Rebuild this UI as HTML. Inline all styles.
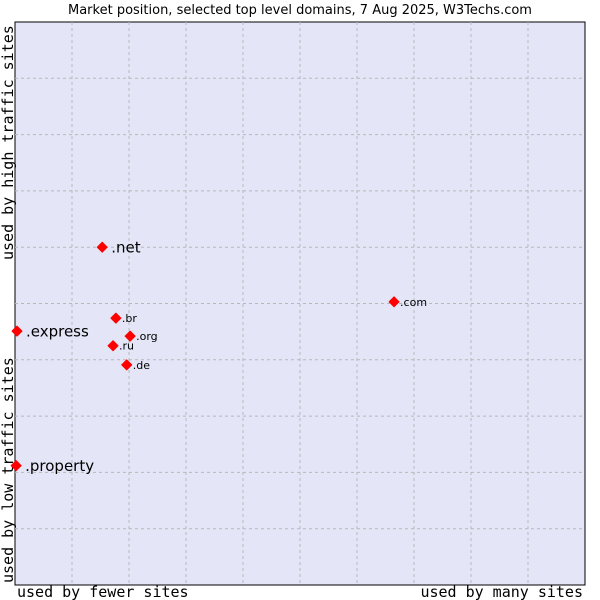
<!DOCTYPE html>
<html><head><meta charset="utf-8"><style>
body{margin:0;background:#fff;width:600px;height:600px;overflow:hidden}
svg{display:block}
</style></head><body>
<svg width="600" height="600">
<text x="300" y="14" text-anchor="middle" font-family="DejaVu Sans, sans-serif" font-size="13" fill="#000">Market position, selected top level domains, 7 Aug 2025, W3Techs.com</text>
<rect x="15" y="22" width="570" height="563" fill="#e4e6f8" stroke="#000" stroke-width="1"/>
<g id="grid"></g>
<text x="17" y="597" font-family="DejaVu Sans Mono, monospace" font-size="15">used by fewer sites</text>
<text x="583" y="597" text-anchor="end" font-family="DejaVu Sans Mono, monospace" font-size="15">used by many sites</text>
<text transform="translate(13,583) rotate(-90)" font-family="DejaVu Sans Mono, monospace" font-size="15">used by low traffic sites</text>
<text transform="translate(13,260) rotate(-90)" font-family="DejaVu Sans Mono, monospace" font-size="15">used by high traffic sites</text>
<g id="points"></g>
</svg>
<script>
const domains=[".com",".net",".br",".org",".ru",".de",".express",".property"];
const xValues=[66.5,15.3,17.7,20.2,17.2,19.6,0.35,0.2];
const yValues=[50.3,60.0,47.4,44.2,42.5,39.1,45.1,21.2];
const bigLabel=[false,true,false,false,false,false,true,true];
const NS="http://www.w3.org/2000/svg";
const X0=15,X1=585,Y0=22,Y1=585;
const sx=v=>X0+v/100*(X1-X0);
const sy=v=>Y1-v/100*(Y1-Y0);
const grid=document.getElementById('grid');
for(let i=1;i<10;i++){
  const v=document.createElementNS(NS,'line');
  
  
  v.setAttribute('x1',sx(i*10));v.setAttribute('x2',sx(i*10));v.setAttribute('y1',Y0);v.setAttribute('y2',Y1);
  v.setAttribute('stroke','#b8b8b8');v.setAttribute('stroke-dasharray','3,3');
  grid.appendChild(v);
  const h=document.createElementNS(NS,'line');
  
  
  h.setAttribute('y1',sy(i*10));h.setAttribute('y2',sy(i*10));h.setAttribute('x1',X0);h.setAttribute('x2',X1);
  h.setAttribute('stroke','#b8b8b8');h.setAttribute('stroke-dasharray','3,3');
  grid.appendChild(h);
}
const pts=document.getElementById('points');
domains.forEach((d,i)=>{
  const x=sx(xValues[i]),y=sy(yValues[i]);
  const m=document.createElementNS(NS,'polygon');
  
  
  m.setAttribute('points',`${x},${y-5} ${x+5},${y} ${x},${y+5} ${x-5},${y}`);
  m.setAttribute('fill','#f00');
  m.setAttribute('stroke','#f00');
  m.setAttribute('stroke-linejoin','round');
  pts.appendChild(m);
  const t=document.createElementNS(NS,'text');
  
  
  t.setAttribute('x',x+(bigLabel[i]?9:6));
  t.setAttribute('y',y+(bigLabel[i]?5.5:4));
  t.setAttribute('font-family','DejaVu Sans, sans-serif');
  t.setAttribute('font-size',bigLabel[i]?'15':'11');
  t.textContent=d;
  pts.appendChild(t);
});
</script>
</body></html>
